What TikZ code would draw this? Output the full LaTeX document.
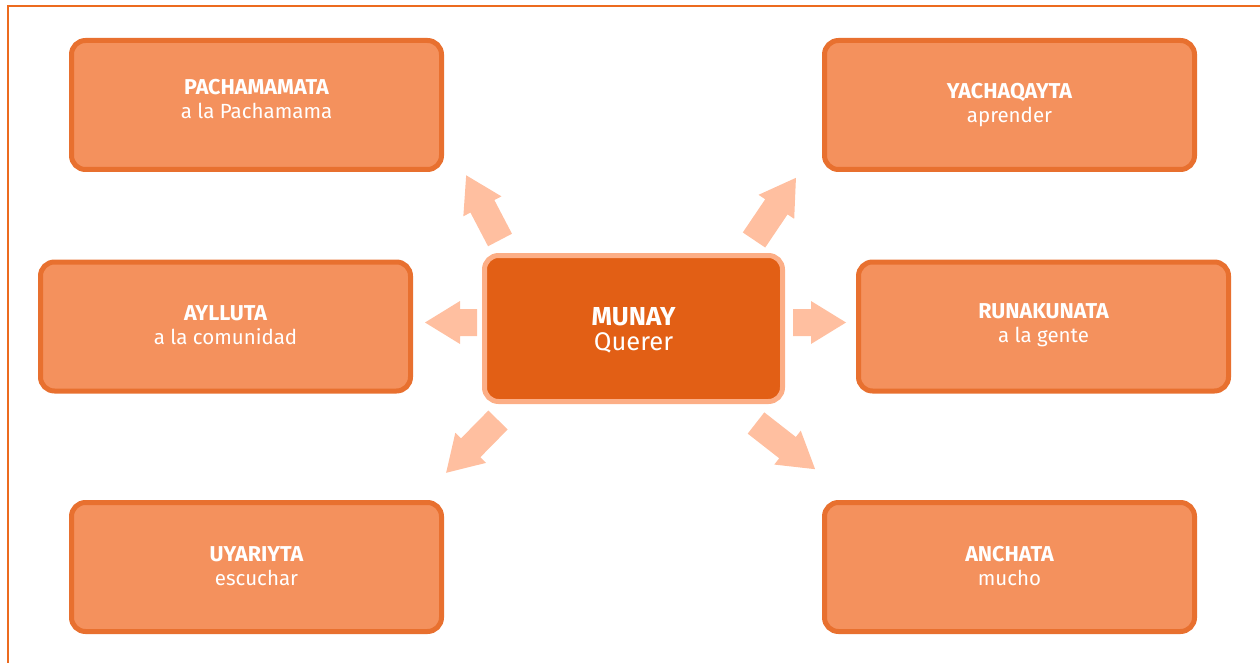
\documentclass[tikz,border=0pt]{standalone}
\usepackage{fontspec}
\setmainfont{Fira Sans}
\usetikzlibrary{calc}

\definecolor{boxfill}{HTML}{F4915D}
\definecolor{boxline}{HTML}{E8702F}
\definecolor{hubfill}{HTML}{E25F15}
\definecolor{hubline}{HTML}{FCAE86}
\definecolor{arrowfill}{HTML}{FFBFA0}
\definecolor{frameline}{HTML}{EC6B1F}

% thick block arrow: base point, direction angle, total length
\newcommand\blockarrow[3]{%
  \fill[arrowfill, shift={#1}, rotate=#2]
    (0,-13.5) -- ({#3-35},-13.5) -- ({#3-35},-21.5) -- (#3,0)
    -- ({#3-35},21.5) -- ({#3-35},13.5) -- (0,13.5) -- cycle;}

\newcommand\leaftitle[1]{{\fontsize{21.5}{24}\selectfont\bfseries #1}}
\newcommand\hubtitle[1]{{\fontsize{26}{25}\selectfont\bfseries #1}}

\begin{document}
\begin{tikzpicture}[x=1pt, y=-1pt,
  leaf/.style={draw=boxline, fill=boxfill, line width=5pt, rounded corners=14pt,
    minimum width=370pt, minimum height=129pt, inner sep=0pt},
  hub/.style={draw=hubline, fill=hubfill, line width=5pt, rounded corners=14pt,
    minimum width=298pt, minimum height=146pt, inner sep=0pt},
  leaftext/.style={text=white, align=center, font=\fontsize{20.5}{24}\selectfont},
  hubtext/.style={text=white, align=center, font=\fontsize{25.5}{25}\selectfont}]

\useasboundingbox (0,0) rectangle (1260,663);
\draw[frameline, line width=1.5pt] (8,670) -- (8,6) -- (1270,6);

% outer boxes
\node[leaf] (pacha) at (256.5,105) {};
\node[leaf] (yacha) at (1009.5,105) {};
\node[leaf] (ayllu) at (225.5,326.5) {};
\node[leaf] (runa)  at (1043.5,326.5) {};
\node[leaf] (uyari) at (256.5,567) {};
\node[leaf] (ancha) at (1009.5,567) {};

\node[leaftext] (pachaT) at ($(pacha.center)+(0,-6)$) {\leaftitle{PACHAMAMATA}\\a la Pachamama};
\node[leaftext] (yachaT) at ($(yacha.center)+(0,0)$) {\leaftitle{YACHAQAYTA}\\aprender};
\node[leaftext] (aylluT) at ($(ayllu.center)+(0,-1)$) {\leaftitle{AYLLUTA}\\a la comunidad};
\node[leaftext] (runaT)  at ($(runa.center)+(0,-1)$) {\leaftitle{RUNAKUNATA}\\a la gente};
\node[leaftext] (uyariT) at ($(uyari.center)+(0,-1)$) {\leaftitle{UYARIYTA}\\escuchar};
\node[leaftext] (anchaT) at ($(ancha.center)+(0,-1)$) {\leaftitle{ANCHATA}\\mucho};

% central box
\node[hub] (munay) at (633.5,328.5) {};
\node[hubtext] (munayT) at ($(munay.center)+(0,2)$) {\hubtitle{MUNAY}\\Querer};

% arrows radiating from the centre
\blockarrow{(500,240)}{117.6}{73}
\blockarrow{(754,240)}{56}{75}
\blockarrow{(477,322.5)}{180}{52}
\blockarrow{(793,322.5)}{0}{53}
\blockarrow{(498,420)}{225.5}{74}
\blockarrow{(756,423)}{-38}{75}
\end{tikzpicture}
\end{document}
